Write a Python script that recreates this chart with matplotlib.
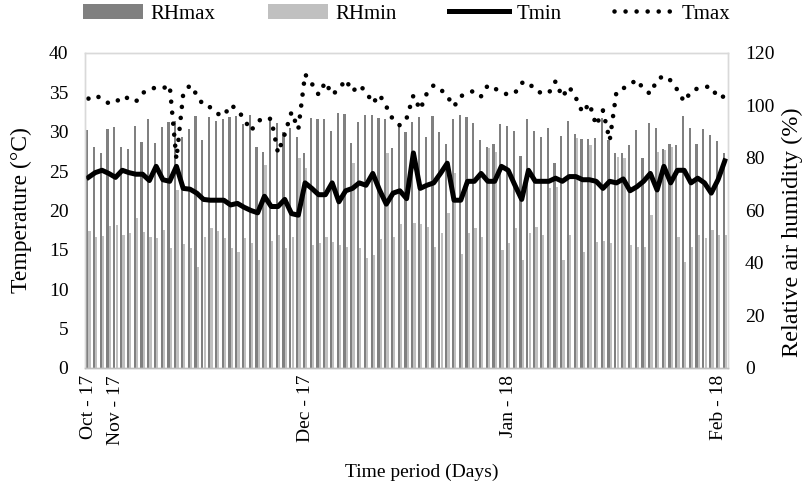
import numpy as np
import matplotlib
matplotlib.use("Agg")
import matplotlib.pyplot as plt

plt.rcParams['font.family'] = ['Liberation Serif', 'DejaVu Serif']

# daily values, late Oct 2017 - early Feb 2018
t_min = [24.2, 24.8, 25.1, 24.7, 24.2, 25.1, 24.8, 24.6, 24.6, 23.8, 25.6, 23.9, 23.7, 25.6,
         22.8, 22.7, 22.2, 21.4, 21.3, 21.3, 21.3, 20.7, 20.9, 20.4, 20.0, 19.7, 21.8, 20.5,
         20.5, 21.4, 19.6, 19.4, 23.5, 22.8, 22.0, 22.0, 23.5, 21.1, 22.5, 22.8, 23.5, 23.2,
         24.7, 22.6, 20.8, 22.2, 22.5, 21.5, 27.3,
         22.8, 23.2, 23.5, 24.7, 26.0, 21.3, 21.3, 23.7, 23.7, 24.7, 23.7, 23.7, 25.6, 25.1,
         23.2, 21.4, 25.1, 23.7, 23.7, 23.7, 24.1, 23.7, 24.3, 24.3, 23.9, 23.9, 23.7, 22.8,
         23.7, 23.5, 24.0, 22.5, 23.0, 23.7, 24.7, 22.6, 25.6, 23.5, 25.1, 25.1, 23.5, 24.1,
         23.5, 22.2, 23.9, 26.3]

t_max = [34.2, 34.6, 34.2, 33.6, 33.7, 34.5, 34.2, 33.8, 34.9, 35.4, 35.6, 35.5, 35.9,
         26.5, 34.8, 35.9, 34.7, 33.3, 33.1, 32.3, 32.0, 33.4, 32.8, 31.6,
         30.1, 31.3, 31.8, 31.6, 27.3, 29.7, 32.5, 30.3,
         37.3, 36.1, 34.7, 36.3, 34.7, 35.4, 36.6, 35.1, 35.9, 35.1, 33.6, 34.7, 33.2, 31.5, 30.8, 31.7,
         34.6, 32.8, 34.9, 35.9, 35.4, 34.5, 33.2, 34.5, 34.9, 35.2, 34.5, 35.9, 35.5, 35.0, 34.7, 34.9,
         36.2, 36.3, 35.2, 34.9, 34.9, 36.4, 34.4, 35.7, 34.3, 32.4, 33.6, 30.8, 32.7, 28.9, 35.1, 35.5,
         36.0, 36.6, 35.4, 34.8, 36.6, 37.1, 36.5, 35.3, 33.8, 35.1, 35.5, 35.7, 35.7, 34.3, 34.5]

rh_max = [90.7, 84.3, 81.8, 91.0, 91.7, 84.3, 83.3, 92.2, 86.2, 95.0, 85.6, 91.7, 93.8, 94.0,
          88, 91, 96, 87, 95.5, 94, 95, 95.5, 96, 93,
          96.4, 84, 82.4, 94.5, 93.2, 90.0, 91.3, 88.1, 81.8, 95.1, 94.7, 94.7, 90.4, 97.0, 96.8,
          85.6, 93.8, 96.4, 96.4, 95.1, 94.7, 83.7, 93.2, 90,
          93.8, 95.5, 88.1, 96.0, 90.0, 85.3, 94.7, 96.4, 95.5, 93.2, 86.8, 84.1, 85.3, 92.9, 92.2,
          90.4, 80.8, 94.7, 90.4, 87.8, 91.3, 78.2, 88.4, 94.2, 89.1,
          87.1, 87.1, 87.5, 95.1, 86.8, 82.0, 82.0, 84.9, 90.7, 79.9, 93.4, 91.3, 83.3, 85.3, 84.9,
          95.8, 91.3, 85.3, 90.9, 88.7, 86.5, 82.0]

rh_min = [52.3, 50.0, 50.3, 54.1, 54.4, 50.7, 51.4, 57.0, 51.7, 50.0, 49.4, 52.6, 45.6, 67.8,
          47.2, 45.6, 38.6, 49.8, 53.2, 52.2, 49.4, 45.6, 44.1, 49.4, 47.7, 41.2, 77.3, 48.5,
          50.7, 45.6, 50.0,
          80, 76, 47, 47.5, 50, 48, 47, 46, 78, 45.6, 42, 43, 49, 82, 50, 55, 45,
          55.1, 54.9, 53.8, 46.2, 51.3, 58.9, 74.1, 43.6, 51.3, 53.2, 50.0, 83.7, 82.4, 44.9,
          47.5, 53.2, 41.1, 51.3, 53.8, 50.7, 68.4, 69.1, 41.1, 50.7, 87.5, 44.3, 84.9, 48.1,
          48.5, 47.5, 80.5, 79.9, 46.8, 46.2, 46.2, 58.3, 82.4, 83.1, 84.3, 50.0, 40.5, 46.2,
          50.7, 49.4, 52.6, 50.7, 50.7]

tick_pos = [0, 4, 32, 62, 93]
tick_labels = ['Oct - 17', 'Nov - 17', 'Dec - 17', 'Jan - 18', 'Feb - 18']

days = np.arange(len(t_min))

fig = plt.figure(figsize=(8.1, 4.9), dpi=100)
fig.subplots_adjust(left=0.105, right=0.899, bottom=0.249, top=0.892)
ax = fig.add_subplot(111)
ax2 = ax.twinx()

# humidity bars on the right axis, drawn behind the temperature lines
b1 = ax2.bar(days - 0.17, rh_max, width=0.33, color='#808080', linewidth=0, label='RHmax')
b2 = ax2.bar(days + 0.17, rh_min, width=0.33, color='#c0c0c0', linewidth=0, label='RHmin')
ax.set_zorder(ax2.get_zorder() + 1)
ax.patch.set_visible(False)

l1, = ax.plot(days, t_min, color='black', lw=3.6, solid_joinstyle='round', label='Tmin')
l2, = ax.plot(days, t_max, color='black', lw=3.3, linestyle=(0, (0.01, 2.4)),
              dash_capstyle='round', label='Tmax')

ax.set_xlim(-0.5, len(days) - 0.5)
ax.set_ylim(0, 40)
ax2.set_ylim(0, 120)
ax.set_yticks(range(0, 41, 5))
ax2.set_yticks(range(0, 121, 20))
ax.set_xticks(tick_pos)
ax.set_xticklabels(tick_labels, rotation=90, ha='center', va='top')

ax.tick_params(axis='y', length=0, labelsize=14, pad=12)
ax2.tick_params(axis='y', length=0, labelsize=14, pad=12)
ax.tick_params(axis='x', length=0, labelsize=14, pad=5)

for a in (ax, ax2):
    for s in a.spines.values():
        s.set_color('#d9d9d9')
        s.set_linewidth(1)
    a.spines['bottom'].set_color('#bfbfbf')

ax.set_ylabel('Temperature (°C)', fontsize=17)
ax.yaxis.set_label_coords(-0.082, 0.5)
ax2.set_ylabel('Relative air humidity (%)', fontsize=17.5)
ax2.yaxis.set_label_coords(1.083, 0.43)
ax.set_xlabel('Time period (Days)', fontsize=14)
ax.xaxis.set_label_coords(0.524, -0.305)

fig.legend([b1, b2, l1, l2], ['RHmax', 'RHmin', 'Tmin', 'Tmax'], ncol=4,
           loc='center', bbox_to_anchor=(0.502, 0.972), frameon=False, fontsize=15,
           handlelength=2.9, handletextpad=0.35, columnspacing=2.5)

fig.savefig('out.png', dpi=100)
